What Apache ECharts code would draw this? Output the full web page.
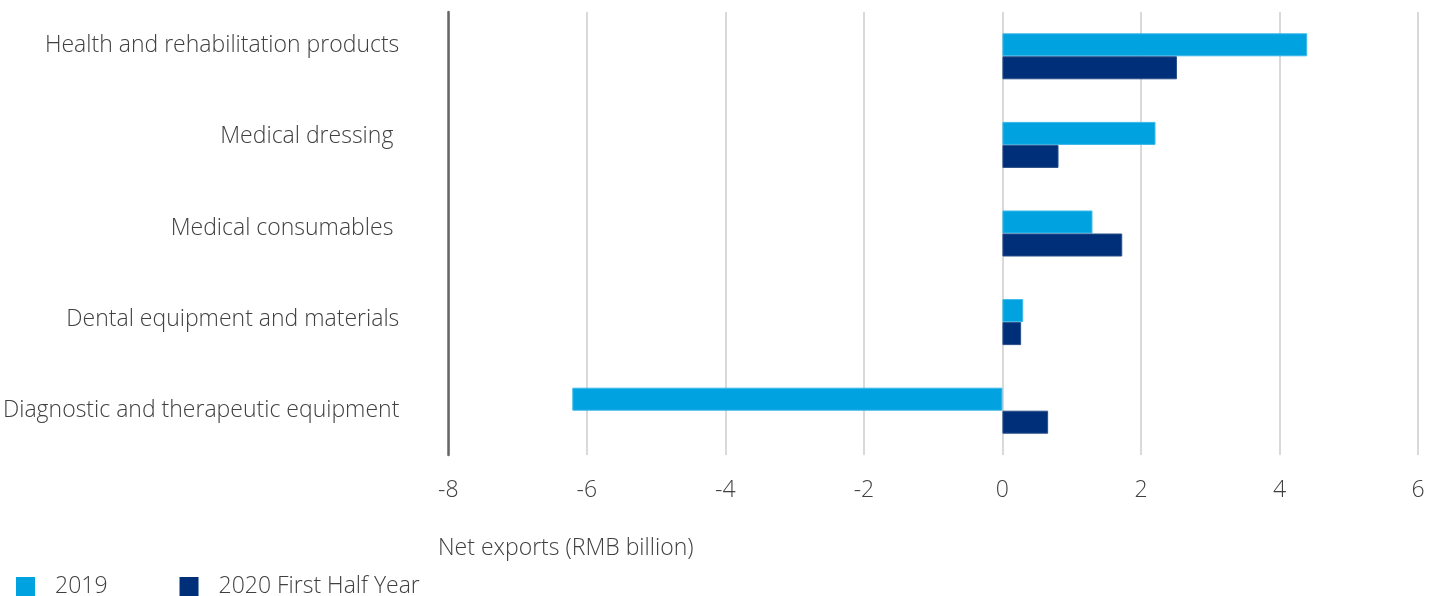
<!DOCTYPE html>
<html>
<head>
<meta charset="utf-8">
<script src="https://cdn.jsdelivr.net/npm/echarts@6/dist/echarts.min.js"></script>
<style>
html,body{margin:0;padding:0;background:#fff;}
#chart{width:1438px;height:596px;}
</style>
</head>
<body>
<div id="chart"></div>
<script>
const categories = [
  "Health and rehabilitation products",
  "Medical dressing ",
  "Medical consumables ",
  "Dental equipment and materials",
  "Diagnostic and therapeutic equipment"
];
const values2019 = [4.40, 2.21, 1.30, 0.30, -6.21];
const values2020H1 = [2.52, 0.81, 1.73, 0.27, 0.66];
const seriesNames = ["2019", "2020 First Half Year"];
const xTicks = { min: -8, max: 6, interval: 2 };
const axisTitle = "Net exports (RMB billion)";

const FONT = '"Open Sans", "Noto Sans", sans-serif';
const TXT = '#404040';
const labelShift = [22, 16, 10, 6, 0];
const rich = {};
labelShift.forEach((p, i) => {
  rich['c' + i] = { fontFamily: FONT, fontSize: 23, fontWeight: 300, color: TXT, padding: [0, 0, p, 0] };
});

const chart = echarts.init(document.getElementById('chart'));
chart.setOption({
  animation: false,
  textStyle: { fontFamily: FONT },
  title: {
    text: axisTitle,
    left: 433, top: 532,
    textStyle: { fontFamily: FONT, fontSize: 23, fontWeight: 300, color: TXT }
  },
  legend: {
    left: 16, top: 575, padding: 0,
    itemWidth: 19, itemHeight: 19, itemGap: 72,
    icon: 'rect',
    itemStyle: { borderWidth: 0 },
    textStyle: { fontFamily: FONT, fontSize: 23, fontWeight: 300, color: TXT, padding: [0, 0, 0, 15] },
    data: seriesNames
  },
  grid: { left: 447, right: 20, top: 12, bottom: 141, containLabel: false },
  xAxis: {
    type: 'value',
    min: xTicks.min, max: xTicks.max, interval: xTicks.interval,
    axisLine: { show: false },
    axisTick: { show: false },
    axisLabel: { fontFamily: FONT, fontSize: 23, fontWeight: 300, color: TXT, margin: 24 },
    splitLine: { show: true, lineStyle: { color: '#d9d9d9', width: 2 } }
  },
  yAxis: {
    type: 'category',
    data: categories,
    inverse: true,
    axisLine: { show: true, onZero: false, lineStyle: { color: '#666666', width: 2.5 } },
    axisTick: { show: false },
    axisLabel: {
      margin: 49,
      formatter: (v, i) => '{c' + i + '|' + v + '}',
      rich: rich
    }
  },
  series: [
    {
      name: seriesNames[0], type: 'bar', data: values2019,
      barWidth: 23, barGap: '0%',
      itemStyle: { color: '#00A3E0', borderColor: '#3cb8e8', borderWidth: 1 }
    },
    {
      name: seriesNames[1], type: 'bar', data: values2020H1,
      barWidth: 23, barGap: '0%',
      itemStyle: { color: '#002F7A', borderColor: '#2a4f8a', borderWidth: 1 }
    }
  ]
});
</script>
</body>
</html>
